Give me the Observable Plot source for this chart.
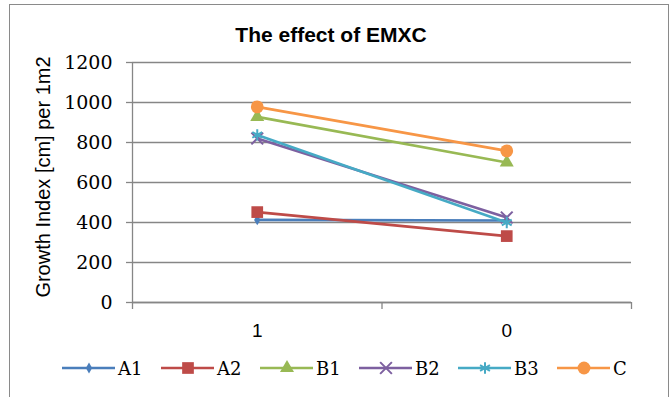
<!DOCTYPE html>
<html>
<head>
<meta charset="utf-8">
<script src="https://cdn.jsdelivr.net/npm/d3@7"></script>
<script src="https://cdn.jsdelivr.net/npm/@observablehq/plot@0.6"></script>
<style>
  html, body { margin: 0; padding: 0; background: #fff; }
  #wrap { position: relative; width: 671px; height: 397px; overflow: hidden; background: #fff; }
  #wrap > svg { position: absolute; left: 0; top: 0; }
  #frame { position: absolute; left: 9px; top: 4px; width: 660px; height: 430px; box-sizing: border-box; border: 1.5px solid #8a8a8a; pointer-events: none; }
  .serif text, text.serif { font-family: "DejaVu Serif", serif; }
</style>
</head>
<body>
<div id="wrap"><div id="frame"></div></div>
<script>
// ---- data ----
const title = "The effect of EMXC";
const yLabel = "Growth Index [cm] per 1m2";
const categories = ["1", "0"];
const seriesNames = ["A1", "A2", "B1", "B2", "B3", "C"];
const A1 = [413, 410];
const A2 = [452, 332];
const B1 = [928, 700];
const B2 = [820, 425];
const B3 = [838, 400];
const C  = [978, 758];
const yTicks = [0, 200, 400, 600, 800, 1000, 1200];

// ---- styles ----
const SANS = '"Liberation Sans", Arial, sans-serif';
const SERIF = '"DejaVu Serif", serif';
const seriesValues = [A1, A2, B1, B2, B3, C];
const colors = ["#4a7ebb", "#be4b48", "#98b954", "#7d60a0", "#46aac5", "#f79646"];
const symbols = ["diamond", "square", "triangle", "times", "asterisk", "circle"];
const radii = [3.3, 6.6, 5.2, 5.4, 5.4, 6.4];
const strokeSymbols = new Set(["times", "asterisk"]);
const grid = "#868686";

const rows = seriesNames.flatMap((s, k) =>
  seriesValues[k].map((v, i) => ({series: s, cat: categories[i], pos: i + 0.5, value: v})));

const marks = [
  Plot.gridY(yTicks, {stroke: grid, strokeOpacity: 1, strokeWidth: 1.3}),
  Plot.ruleX([0], {stroke: grid, strokeWidth: 1.3}),
  Plot.ruleY([0], {stroke: grid, strokeWidth: 1.3}),
  Plot.axisX([0, 1, 2], {tickSize: 7, tickFormat: () => "", stroke: grid, strokeWidth: 1.3, label: null}),
  Plot.axisX(categories.map((c, i) => i + 0.5), {
    tickSize: 0, tickPadding: 21, tickFormat: d => categories[Math.floor(d)], label: null,
    fontSize: 19, fontFamily: SANS, fill: "#000"
  }),
  Plot.axisY(yTicks, {
    tickSize: 6, tickPadding: 14, stroke: grid, strokeWidth: 1.3, tickFormat: d => String(d),
    fontSize: 19, fontFamily: SERIF, fill: "#000", label: null, className: "serif"
  })
];

seriesNames.forEach((s, k) => {
  const d = rows.filter(r => r.series === s);
  marks.push(Plot.line(d, {x: "pos", y: "value", stroke: colors[k], strokeWidth: 2.6}));
  if (strokeSymbols.has(symbols[k])) {
    marks.push(Plot.dot(d, {x: "pos", y: "value", symbol: symbols[k], r: radii[k], stroke: colors[k], strokeWidth: 2, fill: "none"}));
  } else {
    marks.push(Plot.dot(d, {x: "pos", y: "value", symbol: symbols[k], r: radii[k], fill: colors[k], stroke: "none"}));
  }
});

const chart = Plot.plot({
  width: 671,
  height: 397,
  marginLeft: 132,
  marginRight: 40,
  marginTop: 62,
  marginBottom: 95,
  style: {background: "transparent", color: "#000", overflow: "visible"},
  x: {type: "linear", domain: [0, 2], axis: null, label: null},
  y: {domain: [0, 1200], axis: null, label: null},
  marks
});

const wrap = document.getElementById("wrap");
wrap.insertBefore(chart, wrap.firstChild);

// ---- overlay: title, y label, legend ----
const ns = "http://www.w3.org/2000/svg";
const ov = d3.select(wrap).append("svg")
  .attr("xmlns", ns).attr("width", 671).attr("height", 397);

ov.append("text")
  .attr("x", 331).attr("y", 42)
  .attr("text-anchor", "middle")
  .style("font-family", SANS)
  .attr("font-weight", "bold").attr("font-size", 21)
  .attr("fill", "#000")
  .text(title);

ov.append("text")
  .attr("transform", "translate(43,177) rotate(-90)")
  .attr("text-anchor", "middle").attr("dominant-baseline", "central")
  .style("font-family", SANS)
  .attr("font-size", 20).attr("fill", "#000")
  .text(yLabel);

const symMap = {diamond: d3.symbolDiamond, square: d3.symbolSquare, triangle: d3.symbolTriangle,
  times: d3.symbolTimes, asterisk: d3.symbolAsterisk, circle: d3.symbolCircle};
const ly = 368;
seriesNames.forEach((s, k) => {
  const x0 = 62 + k * 99;
  const g = ov.append("g");
  g.append("line").attr("x1", x0).attr("x2", x0 + 53).attr("y1", ly).attr("y2", ly)
    .attr("stroke", colors[k]).attr("stroke-width", 2.6);
  const p = g.append("path")
    .attr("transform", `translate(${x0 + 27},${ly})`)
    .attr("d", d3.symbol(symMap[symbols[k]], Math.PI * radii[k] * radii[k])());
  if (strokeSymbols.has(symbols[k])) p.attr("fill", "none").attr("stroke", colors[k]).attr("stroke-width", 2);
  else p.attr("fill", colors[k]);
  g.append("text").attr("x", x0 + 56).attr("y", ly)
    .attr("dominant-baseline", "central")
    .style("font-family", SERIF).attr("font-size", 18).attr("fill", "#000")
    .text(s);
});
</script>
</body>
</html>
